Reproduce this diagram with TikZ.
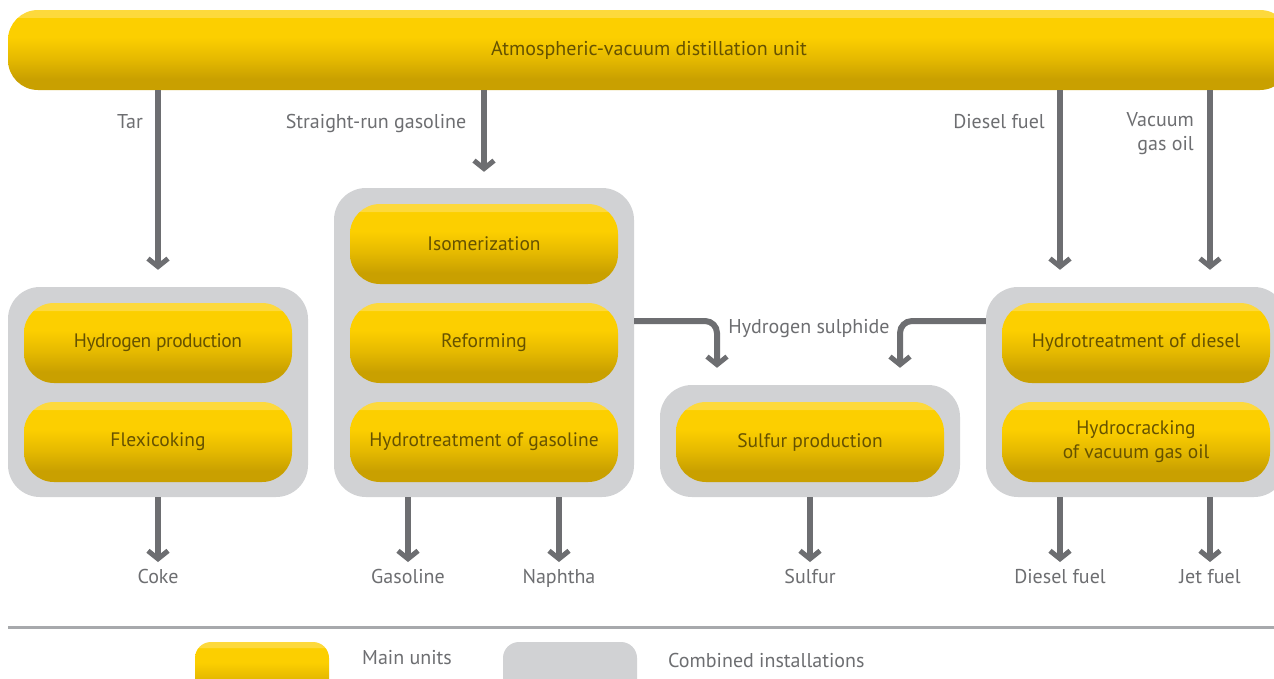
\documentclass[tikz,border=0pt]{standalone}
\usepackage{fontspec}
\setmainfont{PT Sans}
\usetikzlibrary{arrows.meta}
\definecolor{ytop}{HTML}{FCCF00}
\definecolor{ylight}{HTML}{FDD93C}
\definecolor{ymid}{HTML}{E6BA00}
\definecolor{ydark}{HTML}{C9A000}
\definecolor{ytext}{HTML}{665200}
\definecolor{grp}{HTML}{D1D2D4}
\definecolor{agray}{HTML}{6D6E71}
\definecolor{sepgray}{HTML}{A7A9AC}
\pgfdeclareverticalshading{yelshade}{100bp}{color(0bp)=(ydark); color(25bp)=(ydark); color(32bp)=(ydark); color(45bp)=(ymid); color(58bp)=(ytop); color(70bp)=(ytop); color(70.5bp)=(ylight); color(75bp)=(ylight); color(100bp)=(ylight)}
\begin{document}
\begin{tikzpicture}[x=1pt,y=-1pt,
  unit/.style={shade, shading=yelshade, rounded corners=30pt, minimum width=268pt, minimum height=80pt, inner sep=0pt, text=ytext, font=\fontsize{19.5}{24}\selectfont, align=center},
  group/.style={fill=grp, rounded corners=32pt, inner sep=0pt},
  lbl/.style={text=agray, font=\fontsize{20}{24}\selectfont, inner sep=0pt, align=center},
  arr/.style={draw=agray, line width=6pt, -{Straight Barb[length=8pt,width=20pt,line width=5pt]}},
  flow/.style={draw=agray, line width=6pt, rounded corners=12pt, -{Straight Barb[length=8pt,width=20pt,line width=5pt]}}
]
\useasboundingbox (0,0) rectangle (1274,678);
\clip (0,0) rectangle (1274,678);
\fill[white] (0,0) rectangle (1274,678);

% top bar
\node[unit, minimum width=1282pt, font=\fontsize{20}{24}\selectfont] (top) at (649,50) {Atmospheric-vacuum distillation unit};

% groups
\node[group, minimum width=300pt, minimum height=210pt] (g1) at (158,392) {};
\node[group, minimum width=300pt, minimum height=309pt] (g2) at (484,342.5) {};
\node[group, minimum width=300pt, minimum height=112pt] (g3) at (810,441) {};
\node[group, minimum width=300pt, minimum height=210pt] (g4) at (1136,392) {};

% units
\node[unit] (hp) at (158,343) {\addfontfeature{LetterSpace=-2.5}Hydrogen production};
\node[unit] (fx) at (158,442) {Flexicoking};
\node[unit] (iso) at (484,244) {Isomerization};
\node[unit] (ref) at (484,343) {Reforming};
\node[unit] (htg) at (484,442) {Hydrotreatment of gasoline};
\node[unit] (sp) at (810,442) {Sulfur production};
\node[unit] (htd) at (1136,343) {Hydrotreatment of diesel};
\node[unit] (hc) at (1136,442) {Hydrocracking\\of vacuum gas oil};

% helper coordinates
\coordinate (xvgo) at (1210,0);
\coordinate (xdsl) at (1060,0);
\coordinate (hsy) at (0,321);
\coordinate (hsl) at (717,0);
\coordinate (hsr) at (900,0);

% arrows from top bar
\draw[arr] (top.south -| g1.north) -- ([yshift=17pt]g1.north);
\draw[arr] (top.south -| g2.north) -- ([yshift=16pt]g2.north);
\draw[arr] (top.south -| xdsl) -- ([yshift=17pt]g4.north -| xdsl);
\draw[arr] (top.south -| xvgo) -- ([yshift=17pt]g4.north -| xvgo);

\node[lbl, anchor=base east] (ltar) at (143,128) {Tar};
\node[lbl, anchor=base] (lsrg) at (376,128) {Straight-run gasoline};
\node[lbl, anchor=base] (ldsl) at (999,128) {Diesel fuel};
\node[lbl, anchor=east, align=right] (lvgo) at (1194,134) {Vacuum\\gas oil};

% hydrogen sulphide
\draw[flow] (g2.east |- hsy) -- (hsl |- hsy) -- ([yshift=17pt]g3.north -| hsl);
\draw[flow] (g4.west |- hsy) -- (hsr |- hsy) -- ([yshift=17pt]g3.north -| hsr);
\node[lbl, anchor=base] (lhs) at (809,333) {Hydrogen sulphide};

% outputs
\node[lbl, anchor=base] (coke) at (158,583) {Coke};
\node[lbl, anchor=base] (gas) at (408,583) {Gasoline};
\node[lbl, anchor=base] (nap) at (559,583) {Naphtha};
\node[lbl, anchor=base] (sul) at (810,583) {Sulfur};
\node[lbl, anchor=base] (dsl) at (1060,583) {Diesel fuel};
\node[lbl, anchor=base] (jet) at (1210,583) {Jet fuel};

\coordinate (ytip) at (0,562);
\draw[arr] (g1.south) -- (coke |- ytip);
\draw[arr] (g2.south -| gas) -- (gas |- ytip);
\draw[arr] (g2.south -| nap) -- (nap |- ytip);
\draw[arr] (g3.south) -- (sul |- ytip);
\draw[arr] (g4.south -| dsl) -- (dsl |- ytip);
\draw[arr] (g4.south -| jet) -- (jet |- ytip);

% separator and legend
\coordinate (sepl) at (8,627);
\coordinate (sepr) at (1274,627);
\draw[sepgray, line width=3pt] (sepl) -- (sepr);
\node[unit, minimum width=134pt, minimum height=60pt, rounded corners=16pt] (legy) at (262,672) {};
\node[lbl, anchor=base west] (legyt) at (362,664) {Main units};
\node[group, minimum width=134pt, minimum height=60pt, rounded corners=16pt] (legg) at (570,672) {};
\node[lbl, anchor=base west] (leggt) at (668,667) {Combined installations};
\end{tikzpicture}
\end{document}
